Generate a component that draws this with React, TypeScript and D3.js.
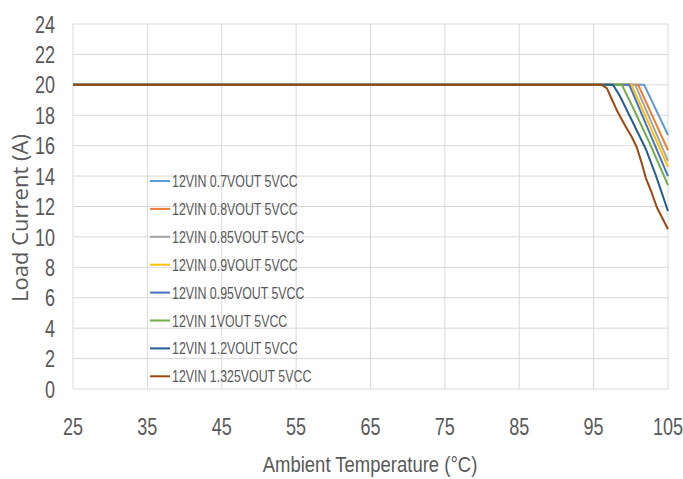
import { useMemo } from "react";
import * as d3 from "d3";

const WIDTH = 683;
const HEIGHT = 479;
const MARGIN = { top: 24, right: 15, bottom: 90, left: 73 };

const SANS = "'Liberation Sans', Arial, sans-serif";
const TEXT_COLOR = "#595959";

// each series: temperatures (°C) and load current (A)
const t07 = [25, 101.8, 105];
const i07 = [20, 20, 16.7];
const t08 = [25, 101.0, 105];
const i08 = [20, 20, 15.7];
const t085 = [25, 100.6, 105];
const i085 = [20, 20, 15.0];
const t09 = [25, 100.1, 105];
const i09 = [20, 20, 14.6];
const t095 = [25, 99.8, 105];
const i095 = [20, 20, 14.0];
const t1 = [25, 98.8, 100.5, 102.5, 105];
const i1 = [20, 20, 18.3, 16.2, 13.4];
const t12 = [25, 97.6, 98.5, 100, 102, 103.4, 105];
const i12 = [20, 20, 19.3, 17.8, 15.8, 14.0, 11.7];
const t1325 = [25, 96.1, 96.8, 97.4, 98.1, 98.8, 99.5, 100.1, 100.8, 101.5, 102.0, 102.7, 103.5, 105];
const i1325 = [20, 20, 19.77, 19.1, 18.35, 17.7, 17.1, 16.6, 15.9, 14.8, 13.9, 13.05, 11.95, 10.5];

const seriesNames = [
  "12VIN 0.7VOUT 5VCC",
  "12VIN 0.8VOUT 5VCC",
  "12VIN 0.85VOUT 5VCC",
  "12VIN 0.9VOUT 5VCC",
  "12VIN 0.95VOUT 5VCC",
  "12VIN 1VOUT 5VCC",
  "12VIN 1.2VOUT 5VCC",
  "12VIN 1.325VOUT 5VCC",
];
const seriesTemps = [t07, t08, t085, t09, t095, t1, t12, t1325];
const seriesCurrents = [i07, i08, i085, i09, i095, i1, i12, i1325];
const colors = [
  "#5B9BD5",
  "#ED7D31",
  "#A5A5A5",
  "#FFC000",
  "#4472C4",
  "#70AD47",
  "#255E91",
  "#9E480E",
];

const xTicks = [25, 35, 45, 55, 65, 75, 85, 95, 105];
const yTicks = [0, 2, 4, 6, 8, 10, 12, 14, 16, 18, 20, 22, 24];

// narrow-looking text: a regular sans squeezed horizontally
const NarrowText = ({
  x,
  y,
  size,
  sx,
  anchor = "start",
  children,
}: {
  x: number;
  y: number;
  size: number;
  sx: number;
  anchor?: string;
  children: any;
}) => (
  <text
    transform={`translate(${x},${y}) scale(${sx},1)`}
    textAnchor={anchor}
    fontSize={size}
    fontFamily={SANS}
    fill={TEXT_COLOR}
  >
    {children}
  </text>
);

export default function App() {
  const boundsWidth = WIDTH - MARGIN.left - MARGIN.right;
  const boundsHeight = HEIGHT - MARGIN.top - MARGIN.bottom;

  const xScale = useMemo(
    () => d3.scaleLinear().domain([25, 105]).range([0, boundsWidth]),
    []
  );
  const yScale = useMemo(
    () => d3.scaleLinear().domain([0, 24]).range([boundsHeight, 0]),
    []
  );

  const lineGen = d3
    .line<[number, number]>()
    .x((d) => xScale(d[0]))
    .y((d) => yScale(d[1]));

  const hGrid = yTicks.map((t) => (
    <line
      key={"h" + t}
      x1={0}
      x2={boundsWidth}
      y1={yScale(t)}
      y2={yScale(t)}
      stroke="#d9d9d9"
      strokeWidth={1}
    />
  ));
  const vGrid = xTicks.map((t) => (
    <line
      key={"v" + t}
      x1={xScale(t)}
      x2={xScale(t)}
      y1={0}
      y2={boundsHeight}
      stroke="#d9d9d9"
      strokeWidth={1}
    />
  ));

  const lines = seriesTemps.map((temps, i) => (
    <path
      key={i}
      d={
        lineGen(
          temps.map((t, j) => [t, seriesCurrents[i][j]] as [number, number])
        ) || ""
      }
      fill="none"
      stroke={colors[i]}
      strokeWidth={2}
      strokeLinejoin="round"
    />
  ));

  // legend sits inside the plot area, no box
  const legend = seriesNames.map((name, i) => {
    const y = 181 + i * 27.9;
    return (
      <g key={name}>
        <line x1={150} x2={170} y1={y} y2={y} stroke={colors[i]} strokeWidth={2} />
        <NarrowText x={172} y={y + 6} size={16.5} sx={0.75}>
          {name}
        </NarrowText>
      </g>
    );
  });

  return (
    <svg
      width={WIDTH}
      height={HEIGHT}
      style={{ position: "absolute", left: 0, top: 0, background: "#fff" }}
    >
      <g transform={`translate(${MARGIN.left},${MARGIN.top})`}>
        {hGrid}
        {vGrid}
        {lines}
      </g>

      {yTicks.map((t) => (
        <NarrowText
          key={"yl" + t}
          x={55}
          y={MARGIN.top + yScale(t) + 8.6}
          size={24}
          sx={0.75}
          anchor="end"
        >
          {t}
        </NarrowText>
      ))}
      {xTicks.map((t) => (
        <NarrowText
          key={"xl" + t}
          x={MARGIN.left + xScale(t)}
          y={435}
          size={24}
          sx={0.75}
          anchor="middle"
        >
          {t}
        </NarrowText>
      ))}

      <NarrowText x={370} y={472} size={21.5} sx={0.86} anchor="middle">
        Ambient Temperature (°C)
      </NarrowText>
      <text
        transform="translate(28,218) rotate(-90)"
        textAnchor="middle"
        fontSize={22}
        fontFamily="'Open Sans', sans-serif"
        fill={TEXT_COLOR}
      >
        Load Current (A)
      </text>

      {legend}
    </svg>
  );
}
